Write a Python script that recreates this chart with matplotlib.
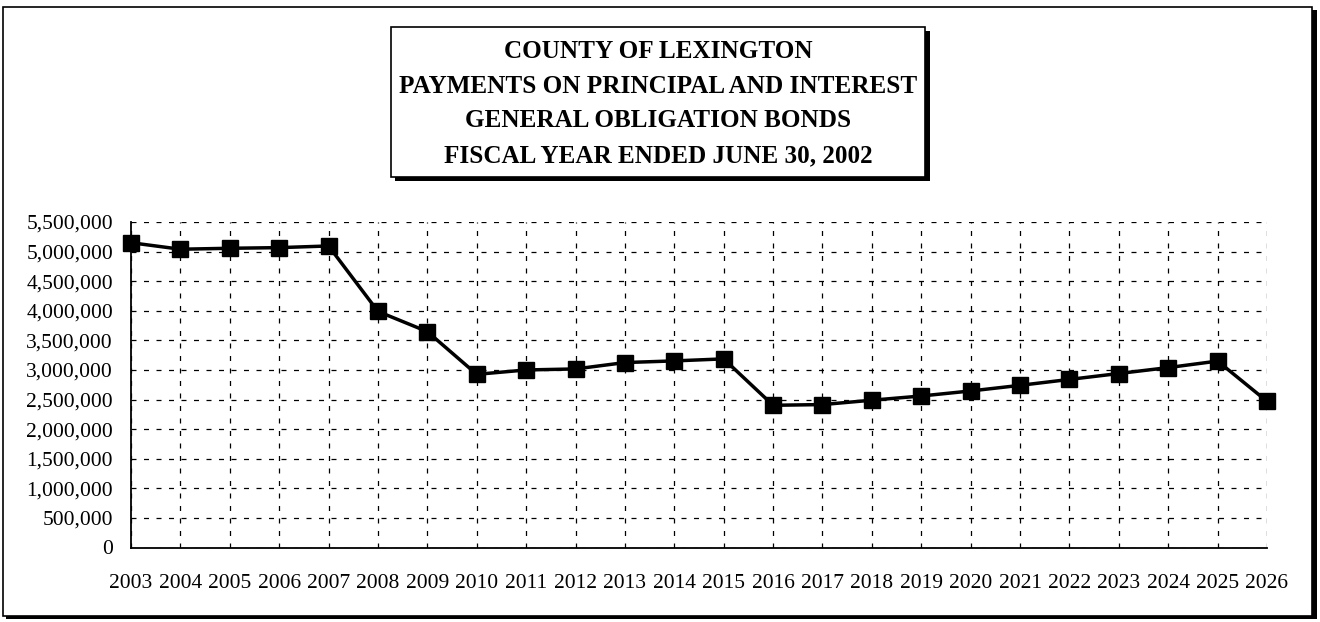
import matplotlib
matplotlib.use('Agg')
import matplotlib.pyplot as plt
from matplotlib.patches import Rectangle
from matplotlib.ticker import FuncFormatter

years = list(range(2003, 2027))
payments = [5150000, 5040000, 5056000, 5067000, 5095000, 3989000, 3648000,
            2926000, 3000000, 3017000, 3125000, 3153000, 3187000, 2403000,
            2415000, 2489000, 2560000, 2645000, 2740000, 2840000, 2940000,
            3040000, 3150000, 2470000]
title_lines = ['COUNTY OF LEXINGTON',
               'PAYMENTS ON PRINCIPAL AND INTEREST',
               'GENERAL OBLIGATION BONDS',
               'FISCAL YEAR ENDED JUNE 30, 2002']
y_ticks = list(range(0, 5500001, 500000))

W, H = 1320, 622
fig = plt.figure(figsize=(W/100, H/100), dpi=100)
plt.rcParams['font.family'] = ['Liberation Serif', 'DejaVu Serif']

def fx(px):
    return px / W

def fy(py):
    return 1 - py / H

# outer frame with shadow on right/bottom
fig.patches.append(Rectangle((fx(6), fy(619)), fx(1314-3), (619-10)/H,
                             transform=fig.transFigure, facecolor='black',
                             edgecolor='none', zorder=0))
fig.patches.append(Rectangle((fx(3), fy(616)), fx(1312-3), (616-7)/H,
                             transform=fig.transFigure, facecolor='white',
                             edgecolor='black', lw=1.2, zorder=1))

# title box with shadow
fig.patches.append(Rectangle((fx(395), fy(181)), fx(930-395), (181-31)/H,
                             transform=fig.transFigure, facecolor='black',
                             edgecolor='none', zorder=2))
fig.patches.append(Rectangle((fx(391), fy(177)), fx(925-391), (177-27)/H,
                             transform=fig.transFigure, facecolor='white',
                             edgecolor='black', lw=1.2, zorder=3))
for i, line in enumerate(title_lines):
    fig.text(fx(658), fy(52 + i*34.5), line, ha='center', va='center',
             fontsize=18.1, fontweight='bold', zorder=4)

ax = fig.add_axes([fx(131), fy(547.5), fx(1267-131), (547.5-222)/H])
ax.set_zorder(5)
ax.patch.set_alpha(0)

ax.plot(years, payments, color='black', lw=2.5, marker='s', markersize=11.5,
        clip_on=False, zorder=5)

ax.set_xlim(2003, 2026)
ax.set_ylim(0, 5500000)
ax.set_xticks(years)
ax.set_yticks(y_ticks)
ax.yaxis.set_major_formatter(FuncFormatter(lambda v, p: '{:,.0f}'.format(v)))
ax.tick_params(axis='both', length=0, labelsize=15.5)
ax.tick_params(axis='y', pad=13)
ax.tick_params(axis='x', pad=19)
ax.grid(True, color='black', lw=0.9, linestyle=(0, (4, 6)))
ax.spines['top'].set_visible(False)
ax.spines['right'].set_visible(False)
ax.spines['left'].set_linewidth(1.3)
ax.spines['bottom'].set_linewidth(1.3)

plt.savefig('out.png', dpi=100)
